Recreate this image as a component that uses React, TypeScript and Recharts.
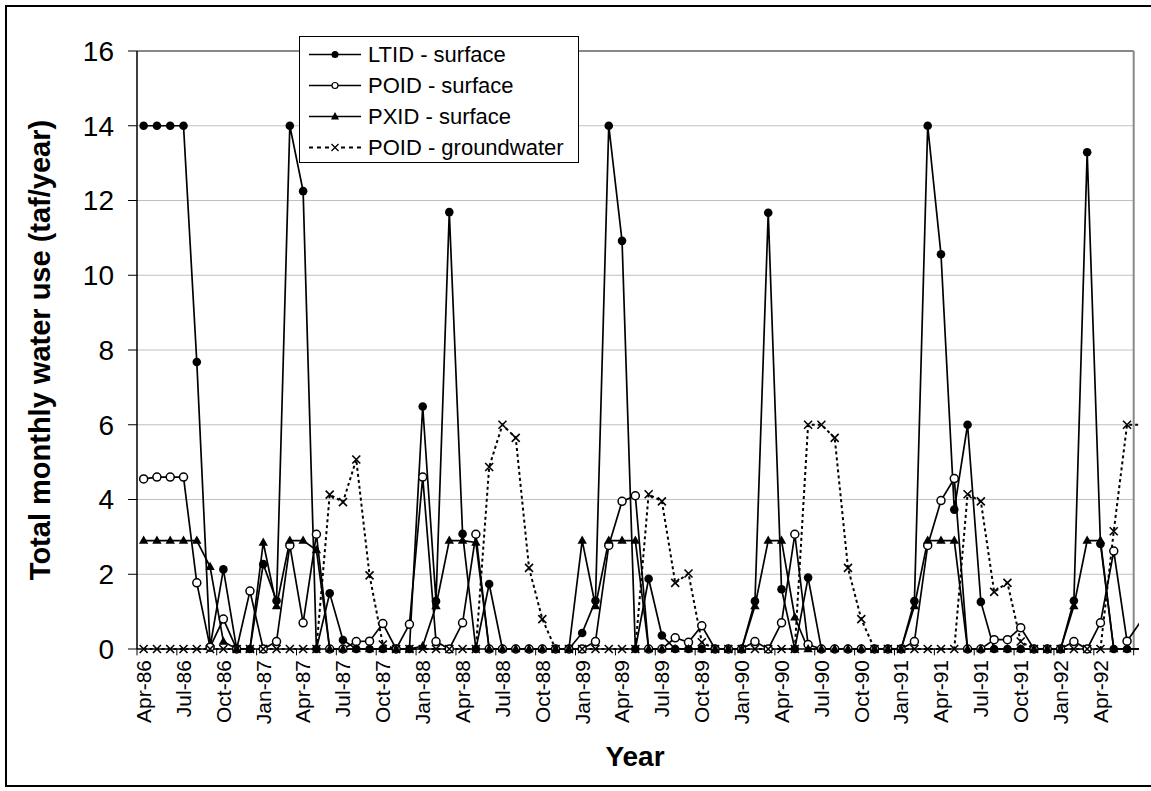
import { LineChart, Line, XAxis, YAxis, ReferenceLine, Legend } from "recharts";

const months = [
  "Apr-86", "May-86", "Jun-86", "Jul-86", "Aug-86", "Sep-86", "Oct-86", "Nov-86", "Dec-86", "Jan-87", "Feb-87", "Mar-87",
  "Apr-87", "May-87", "Jun-87", "Jul-87", "Aug-87", "Sep-87", "Oct-87", "Nov-87", "Dec-87", "Jan-88", "Feb-88", "Mar-88",
  "Apr-88", "May-88", "Jun-88", "Jul-88", "Aug-88", "Sep-88", "Oct-88", "Nov-88", "Dec-88", "Jan-89", "Feb-89", "Mar-89",
  "Apr-89", "May-89", "Jun-89", "Jul-89", "Aug-89", "Sep-89", "Oct-89", "Nov-89", "Dec-89", "Jan-90", "Feb-90", "Mar-90",
  "Apr-90", "May-90", "Jun-90", "Jul-90", "Aug-90", "Sep-90", "Oct-90", "Nov-90", "Dec-90", "Jan-91", "Feb-91", "Mar-91",
  "Apr-91", "May-91", "Jun-91", "Jul-91", "Aug-91", "Sep-91", "Oct-91", "Nov-91", "Dec-91", "Jan-92", "Feb-92", "Mar-92",
  "Apr-92", "May-92", "Jun-92", "Jul-92",
];

const tickLabels = [
  "Apr-86", "Jul-86", "Oct-86", "Jan-87", "Apr-87", "Jul-87", "Oct-87", "Jan-88", "Apr-88", "Jul-88", "Oct-88",
  "Jan-89", "Apr-89", "Jul-89", "Oct-89", "Jan-90", "Apr-90", "Jul-90", "Oct-90", "Jan-91", "Apr-91", "Jul-91",
  "Oct-91", "Jan-92", "Apr-92",
];

const yTicks = [0, 2, 4, 6, 8, 10, 12, 14, 16];

const ltidSurface = [
  14, 14, 14, 14, 7.68, 0.05, 2.13, 0, 0, 2.27, 1.29, 14,
  12.25, 0, 1.49, 0.24, 0, 0, 0, 0, 0, 6.49, 1.28, 11.69,
  3.08, 0, 1.74, 0, 0, 0, 0, 0, 0, 0.43, 1.29, 14,
  10.92, 0, 1.88, 0.36, 0, 0, 0, 0, 0, 0, 1.28, 11.67,
  1.6, 0, 1.91, 0, 0, 0, 0, 0, 0, 0, 1.28, 14,
  10.56, 3.73, 6.0, 1.26, 0, 0, 0, 0, 0, 0, 1.29, 13.29,
  2.81, 0, 0, 0,
];

const poidSurface = [
  4.55, 4.6, 4.6, 4.6, 1.77, 0.05, 0.8, 0, 1.55, 0, 0.2, 2.77,
  0.7, 3.07, 0, 0, 0.2, 0.21, 0.68, 0, 0.66, 4.6, 0.2, 0,
  0.7, 3.07, 0, 0, 0, 0, 0, 0, 0, 0, 0.2, 2.77,
  3.95, 4.1, 0, 0, 0.3, 0.18, 0.62, 0, 0, 0, 0.2, 0,
  0.7, 3.07, 0.12, 0, 0, 0, 0, 0, 0, 0, 0.2, 2.77,
  3.97, 4.56, 0, 0, 0.25, 0.25, 0.57, 0, 0, 0, 0.2, 0,
  0.7, 2.62, 0.21, 0.72,
];

const pxidSurface = [
  2.9, 2.9, 2.9, 2.9, 2.9, 2.2, 0.2, 0, 0, 2.85, 1.15, 2.9,
  2.9, 2.65, 0, 0, 0, 0, 0, 0, 0, 0.08, 1.15, 2.9,
  2.9, 2.85, 0, 0, 0, 0, 0, 0, 0, 2.9, 1.15, 2.9,
  2.9, 2.9, 0, 0, 0, 0, 0, 0, 0, 0, 1.15, 2.9,
  2.9, 0.85, 0, 0, 0, 0, 0, 0, 0, 0, 1.15, 2.9,
  2.9, 2.9, 0, 0, 0, 0, 0, 0, 0, 0, 1.15, 2.9,
  2.9, 0, 0, 0,
];

const poidGroundwater = [
  0, 0, 0, 0, 0, 0, 0, 0, 0, 0, 0, 0,
  0, 0, 4.13, 3.93, 5.07, 1.97, 0.12, 0, 0, 0, 0, 0,
  0, 0, 4.87, 6.0, 5.65, 2.17, 0.8, 0, 0, 0, 0, 0,
  0, 0, 4.14, 3.95, 1.77, 2.02, 0.18, 0, 0, 0, 0, 0,
  0, 0, 6.0, 6.0, 5.65, 2.17, 0.8, 0, 0, 0, 0, 0,
  0, 0, 4.14, 3.95, 1.53, 1.77, 0.2, 0, 0, 0, 0, 0,
  0, 3.15, 6.0, 6.0,
];

const data = months.map((m, i) => ({
  i,
  month: m,
  ltid: ltidSurface[i],
  poid: poidSurface[i],
  pxid: pxidSurface[i],
  gw: poidGroundwater[i],
}));

const tickIdx = tickLabels.map((l) => months.indexOf(l));
const lastShown = months.indexOf("Jun-92");
const axisEnd = lastShown + 0.5;
// tick marks sit between categories
const tickMarks = [...tickIdx.map((i) => i - 0.5), axisEnd];

const FONT = "Arial, 'Liberation Sans', sans-serif";

const filledDot = (p: any) =>
  p.index > lastShown ? <g key={`a${p.index}`} /> : <circle key={`a${p.index}`} cx={p.cx} cy={p.cy} r={4.3} fill="#000" />;

const openDot = (p: any) =>
  p.index > lastShown ? <g key={`b${p.index}`} /> : (
    <circle key={`b${p.index}`} cx={p.cx} cy={p.cy} r={4} fill="#fff" stroke="#000" strokeWidth={1.5} />
  );

const triDot = (p: any) =>
  p.index > lastShown ? <g key={`c${p.index}`} /> : (
    <path key={`c${p.index}`} d={`M${p.cx},${p.cy - 5} L${p.cx + 4.7},${p.cy + 3.2} L${p.cx - 4.7},${p.cy + 3.2} Z`} fill="#000" />
  );

const crossDot = (p: any) =>
  p.index > lastShown ? <g key={`d${p.index}`} /> : (
    <path key={`d${p.index}`} d={`M${p.cx - 4},${p.cy - 4} L${p.cx + 4},${p.cy + 4} M${p.cx - 4},${p.cy + 4} L${p.cx + 4},${p.cy - 4}`} stroke="#000" strokeWidth={1.6} />
  );

const XTick = ({ x, y, payload }: any) => {
  const ty = y + 3;
  return (
    <text
      x={x}
      y={ty}
      transform={`rotate(-90 ${x} ${ty})`}
      textAnchor="end"
      dy="0.35em"
      fontSize={21}
      fontFamily={FONT}
      fill="#000"
    >
      {months[payload.value]}
    </text>
  );
};

const legendItems = [
  { name: "LTID - surface", kind: "filled", dash: undefined },
  { name: "POID - surface", kind: "open", dash: undefined },
  { name: "PXID - surface", kind: "tri", dash: undefined },
  { name: "POID - groundwater", kind: "cross", dash: "4 4" },
];

const LegendBox = () => (
  <div
    style={{
      width: 280,
      height: 127,
      border: "1px solid #000",
      background: "#fff",
      boxSizing: "border-box",
      paddingTop: 2,
      fontFamily: FONT,
      fontSize: 22,
      color: "#000",
    }}
  >
    {legendItems.map((it) => (
      <div key={it.name} style={{ display: "flex", alignItems: "center", height: 31 }}>
        <svg width={66} height={31} style={{ flex: "none" }}>
          <line x1={9} x2={61} y1={15.5} y2={15.5} stroke="#000" strokeWidth={it.dash ? 2 : 1.7} strokeDasharray={it.dash} />
          {it.kind === "filled" && <circle cx={35} cy={15.5} r={3.5} fill="#000" />}
          {it.kind === "open" && <circle cx={35} cy={15.5} r={3} fill="#fff" stroke="#000" strokeWidth={1.2} />}
          {it.kind === "tri" && <path d="M35,11 L39,18.5 L31,18.5 Z" fill="#000" />}
          {it.kind === "cross" && <rect x={30} y={10} width={10} height={11} fill="#fff" />}
          {it.kind === "cross" && <path d="M31.5,12 L38.5,19 M31.5,19 L38.5,12" stroke="#000" strokeWidth={1.3} />}
        </svg>
        <span style={{ marginLeft: 2, whiteSpace: "nowrap" }}>{it.name}</span>
      </div>
    ))}
  </div>
);

export default function App() {
  return (
    <div style={{ position: "absolute", left: 0, top: 0, width: 1151, height: 791, overflow: "hidden", background: "#fff" }}>
      <div
        style={{
          position: "absolute",
          left: 5,
          top: 5,
          width: 1200,
          height: 778,
          border: "2px solid #000",
        }}
      />
      <div style={{ position: "absolute", left: 0, top: 0 }}>
        <LineChart width={1151} height={791} data={data} margin={{ top: 51, right: 12, bottom: 0, left: 0 }}>
          {yTicks.slice(1, -1).map((v) => (
            <ReferenceLine
              key={`g${v}`}
              segment={[{ x: -0.5, y: v }, { x: axisEnd, y: v }]}
              stroke="#c0c0c0"
              strokeWidth={1}
            />
          ))}
          <ReferenceLine segment={[{ x: -0.5, y: 16 }, { x: axisEnd, y: 16 }]} stroke="#888" strokeWidth={2} />
          <ReferenceLine x={axisEnd} stroke="#888" strokeWidth={2} />
          {tickMarks.map((b) => (
            <ReferenceLine
              key={`t${b}`}
              segment={[{ x: b, y: 0 }, { x: b, y: -0.17 }]}
              stroke="#000"
              strokeWidth={1}
              ifOverflow="visible"
            />
          ))}
          <XAxis
            dataKey="i"
            type="number"
            domain={[-0.5, 74.9]}
            allowDataOverflow
            ticks={tickIdx}
            interval={0}
            tick={<XTick />}
            tickLine={false}
            axisLine={{ stroke: "#000", strokeWidth: 1.5 }}
            height={142}
          />
          <YAxis
            domain={[0, 16]}
            ticks={yTicks}
            interval={0}
            width={137}
            tickSize={9}
            tickMargin={14}
            axisLine={{ stroke: "#000", strokeWidth: 1.5 }}
            tickLine={{ stroke: "#000" }}
            tick={{ fontSize: 28, fill: "#000", fontFamily: FONT }}
          />
          <Legend
            layout="vertical"
            align="center"
            verticalAlign="middle"
            content={<LegendBox />}
            wrapperStyle={{ left: 299, top: 36, width: 280, height: 127 }}
          />
          <Line dataKey="ltid" type="linear" stroke="#000" strokeWidth={1.7} dot={filledDot} activeDot={false} isAnimationActive={false} />
          <Line dataKey="poid" type="linear" stroke="#000" strokeWidth={1.7} dot={openDot} activeDot={false} isAnimationActive={false} />
          <Line dataKey="pxid" type="linear" stroke="#000" strokeWidth={1.7} dot={triDot} activeDot={false} isAnimationActive={false} />
          <Line
            dataKey="gw"
            type="linear"
            stroke="#000"
            strokeWidth={2}
            strokeDasharray="3 3"
            dot={crossDot}
            activeDot={false}
            isAnimationActive={false}
          />
        </LineChart>
      </div>
      <div
        style={{
          position: "absolute",
          left: 40,
          top: 350,
          transform: "translate(-50%, -50%) rotate(-90deg)",
          whiteSpace: "nowrap",
          fontFamily: FONT,
          fontWeight: "bold",
          fontSize: 29,
          color: "#000",
        }}
      >
        Total monthly water use (taf/year)
      </div>
      <div
        style={{
          position: "absolute",
          left: 635,
          top: 757,
          transform: "translate(-50%, -50%)",
          whiteSpace: "nowrap",
          fontFamily: FONT,
          fontWeight: "bold",
          fontSize: 28,
          color: "#000",
        }}
      >
        Year
      </div>
    </div>
  );
}
